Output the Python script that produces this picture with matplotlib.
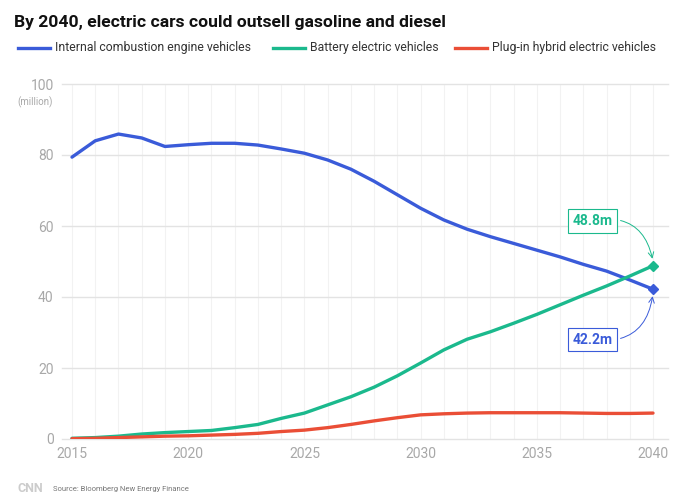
import matplotlib.pyplot as plt
from matplotlib.lines import Line2D

years = list(range(2015, 2041))
ice = [79.4, 84.0, 85.9, 84.8, 82.4, 82.9, 83.3, 83.3, 82.8, 81.7, 80.5,
       78.6, 76.0, 72.6, 68.8, 65.0, 61.7, 59.1, 57.0, 55.1, 53.2, 51.3,
       49.2, 47.3, 44.8, 42.2]
bev = [0.2, 0.4, 0.8, 1.4, 1.8, 2.1, 2.4, 3.2, 4.1, 5.8, 7.3, 9.6, 11.9,
       14.6, 17.8, 21.4, 25.1, 28.1, 30.2, 32.6, 35.1, 37.8, 40.5, 43.1,
       45.9, 48.8]
phev = [0.1, 0.2, 0.4, 0.6, 0.8, 0.9, 1.1, 1.3, 1.6, 2.1, 2.5, 3.2, 4.1,
        5.1, 6.0, 6.8, 7.1, 7.3, 7.4, 7.4, 7.4, 7.4, 7.3, 7.2, 7.2, 7.3]
series_names = ['Internal combustion engine vehicles', 'Battery electric vehicles',
                'Plug-in hybrid electric vehicles']
y_ticks = [0, 20, 40, 60, 80, 100]
x_ticks = [2015, 2020, 2025, 2030, 2035, 2040]

blue = '#3a5bd9'
green = '#1bb98d'
red = '#ea4e36'
grey = '#a8a8a8'

plt.rcParams['font.family'] = ['Roboto', 'DejaVu Sans']

fig = plt.figure(figsize=(7, 4.97), dpi=100)
ax = fig.add_axes([62 / 700, 58 / 497, 606 / 700, 355 / 497])

ax.set_xlim(2015 - 10 / 23.24, 2040 + 15 / 23.24)
ax.set_ylim(0, 100)

# light grid
for yr in years:
    ax.axvline(yr, color='#f2f2f2', lw=0.8, zorder=0)
for t in y_ticks:
    ax.axhline(t, color='#e3e3e3', lw=1.0, zorder=0, clip_on=False)

ax.plot(years, ice, color=blue, lw=2.4, zorder=3, solid_capstyle='round')
ax.plot(years, bev, color=green, lw=2.4, zorder=3, solid_capstyle='round')
ax.plot(years, phev, color=red, lw=2.4, zorder=3, solid_capstyle='round')
ax.plot(years[-1], ice[-1], marker='D', ms=5.5, color=blue, zorder=4)
ax.plot(years[-1], bev[-1], marker='D', ms=5.5, color=green, zorder=4)

for s in ax.spines.values():
    s.set_visible(False)
ax.tick_params(length=0, colors=grey, labelsize=10)
ax.set_yticks(y_ticks)
ax.set_xticks(x_ticks)
ax.tick_params(axis='y', pad=6)
ax.tick_params(axis='x', pad=6)
ax.text(-0.015, 95, '(million)', transform=ax.get_yaxis_transform(),
        ha='right', va='center', fontsize=7, color=grey)

# annotations
ax.annotate(f'{bev[-1]}m', xy=(years[-1], bev[-1] + 1.2), xytext=(2037.4, 61.5),
            ha='center', va='center', fontsize=10, fontweight='bold', color=green,
            bbox=dict(boxstyle='square,pad=0.35', fc='white', ec=green, lw=0.8),
            arrowprops=dict(arrowstyle='->', color=green, lw=0.7,
                            connectionstyle='arc3,rad=-0.5'))
ax.annotate(f'{ice[-1]}m', xy=(years[-1], ice[-1] - 1.2), xytext=(2037.4, 28),
            ha='center', va='center', fontsize=10, fontweight='bold', color=blue,
            bbox=dict(boxstyle='square,pad=0.35', fc='white', ec=blue, lw=0.8),
            arrowprops=dict(arrowstyle='->', color=blue, lw=0.7,
                            connectionstyle='arc3,rad=0.5'))

# title
fig.text(14 / 700, 1 - 22 / 497, 'By 2040, electric cars could outsell gasoline and diesel',
         fontsize=12.6, fontweight='bold', va='center', ha='left', color='#111111')

# legend, placed by hand
leg_y = 1 - 48 / 497
for name, c, x0 in zip(series_names, (blue, green, red), (18, 273, 455)):
    fig.add_artist(Line2D([x0 / 700, (x0 + 32) / 700], [leg_y, leg_y], color=c, lw=2.4,
                          transform=fig.transFigure))
    fig.text((x0 + 37) / 700, leg_y, name, fontsize=8.8, color='#333333',
             va='center', ha='left')

fig.text(18 / 700, 1 - 489 / 497, 'CNN', fontsize=9, fontweight='bold', color='#cccccc',
         va='center', ha='left')
fig.text(53 / 700, 1 - 489 / 497, 'Source: Bloomberg New Energy Finance', fontsize=5.5,
         color='#777777', va='center', ha='left')

fig.savefig('out.png', dpi=100)
